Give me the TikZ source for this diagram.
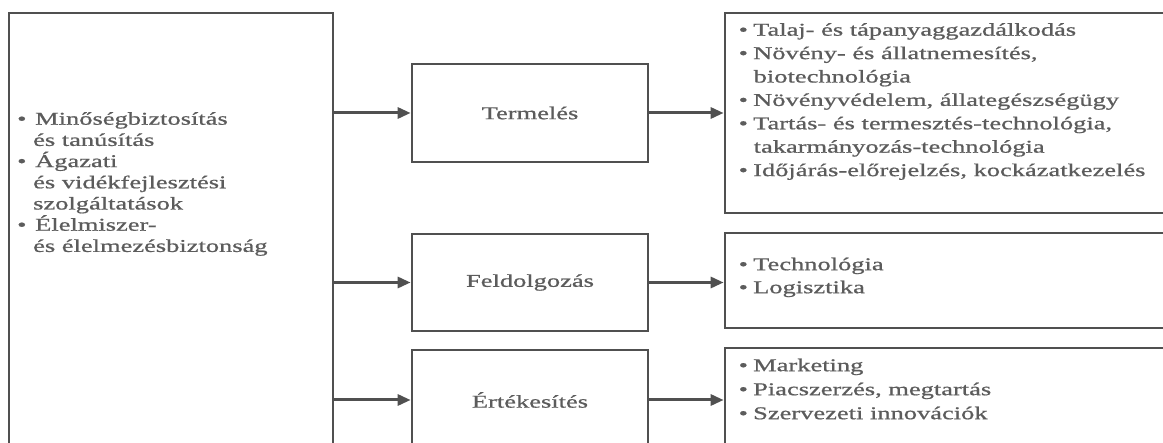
\documentclass[tikz,border=0pt]{standalone}
\usepackage{fontspec}
\setmainfont{Liberation Serif}[FakeStretch=1.47,FakeBold=0.8]
\usetikzlibrary{arrows.meta}
\definecolor{ln}{RGB}{80,80,80}
\definecolor{tx}{RGB}{92,92,92}
\newcommand{\fl}{\rule{0pt}{14pt}}
\newcommand{\lbul}{\makebox[18pt][l]{•}}
\newcommand{\lcont}{\hspace*{16pt}}
\newcommand{\rbul}{\makebox[14.5pt][l]{•}}
\newcommand{\rcont}{\hspace*{15pt}}
\begin{document}
\begin{tikzpicture}[x=1pt,y=-1pt,
  box/.style={draw=ln, line width=2.7pt, fill=white, inner sep=0pt, text=tx, font=\fontsize{18}{22}\selectfont},
  arr/.style={draw=ln, line width=3pt, -{Triangle[length=13pt,width=11pt]}},
  lst/.style={anchor=north west, inner sep=0pt, align=left, text=tx}]
\useasboundingbox (0,0) rectangle (1163,443);
\clip (0,0) rectangle (1163,443);
% boxes
\node[box, minimum width=324pt, minimum height=442pt] (L) at (171,234) {};
\node[box, minimum width=236pt, minimum height=98pt] (T) at (530,113) {Termelés};
\node[box, minimum width=236pt, minimum height=97pt] (F) at (530,282.5) {Feldolgozás};
\node[box, minimum width=236pt, minimum height=100pt] (E) at (530,400) {Értékesítés};
\node[box, minimum width=455pt, minimum height=200pt] (R1) at (952.5,113) {};
\node[box, minimum width=455pt, minimum height=95pt] (R2) at (952.5,280.5) {};
\node[box, minimum width=455pt, minimum height=107pt] (R3) at (952.5,401.5) {};
% lists
\node[lst, font=\fontsize{18}{21.2}\selectfont] (Ltxt) at (17,110.5)
 {\fl\lbul Minőségbiztosítás\\ \lcont és tanúsítás\\ \lbul Ágazati\\ \lcont és vidékfejlesztési\\ \lcont szolgáltatások\\ \lbul Élelmiszer-\\ \lcont és élelmezésbiztonság};
\node[lst, font=\fontsize{18}{23.4}\selectfont] (R1txt) at (738.5,21.5)
 {\fl\rbul Talaj- és tápanyaggazdálkodás\\ \rbul Növény- és állatnemesítés,\\ \rcont biotechnológia\\ \rbul Növényvédelem, állategészségügy\\ \rbul Tartás- és termesztés-technológia,\\ \rcont takarmányozás-technológia\\ \rbul Időjárás-előrejelzés, kockázatkezelés};
\node[lst, font=\fontsize{18}{23}\selectfont] (R2txt) at (738.5,256)
 {\fl\rbul Technológia\\ \rbul Logisztika};
\node[lst, font=\fontsize{18}{24}\selectfont] (R3txt) at (738.5,357)
 {\fl\rbul Marketing\\ \rbul Piacszerzés, megtartás\\ \rbul Szervezeti innovációk};
% arrows
\draw[arr] (L.east |- T.west) -- (T.west);
\draw[arr] (L.east |- F.west) -- (F.west);
\draw[arr] (L.east |- E.west) -- (E.west);
\draw[arr] (T.east) -- (T.east -| R1.west);
\draw[arr] (F.east) -- (F.east -| R2.west);
\draw[arr] (E.east) -- (E.east -| R3.west);
\end{tikzpicture}
\end{document}
